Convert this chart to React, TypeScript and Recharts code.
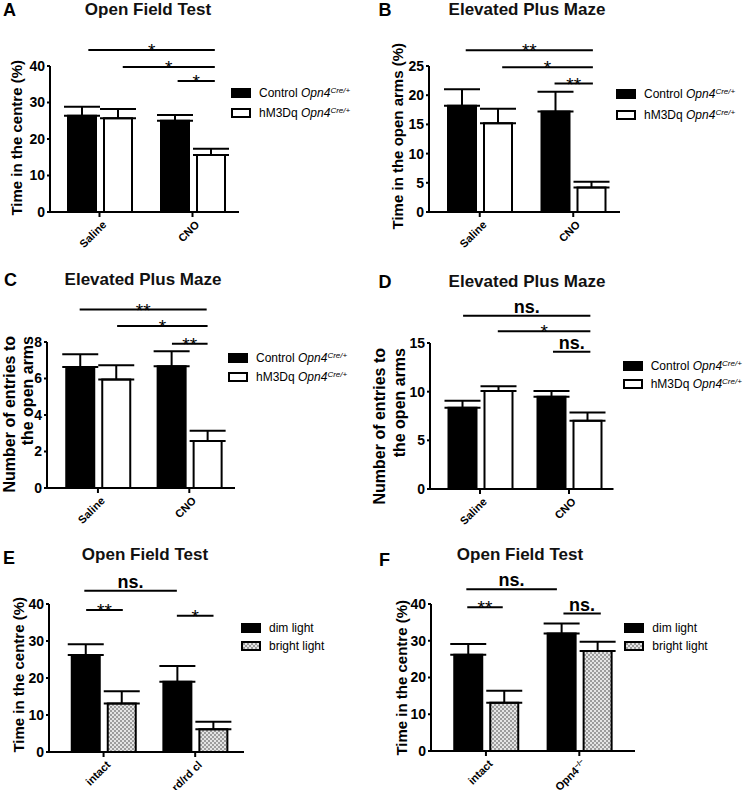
import React from 'react';
import { BarChart, Bar, XAxis, YAxis, ErrorBar, ReferenceLine, Legend } from 'recharts';

const FONT = '"Liberation Sans", Arial, Helvetica, sans-serif';

// categories
const treatments = ['Saline', 'CNO'];
const lesionGroups = ['intact', 'rd/rd cl'];
const knockoutGroups = ['intact', 'Opn4-/-'];
const genotypeNames = ['Control', 'hM3Dq'];
const lightNames = ['dim light', 'bright light'];

// A - open field, time in the centre (%)
const aControl = [26.4, 25.0];
const aControlSem = [2.45, 1.55];
const aHm3dq = [25.7, 15.6];
const aHm3dqSem = [2.5, 1.7];
const aTicks = [0, 10, 20, 30, 40];

// B - elevated plus maze, time in the open arms (%)
const bControl = [18.2, 17.2];
const bControlSem = [2.8, 3.4];
const bHm3dq = [15.2, 4.2];
const bHm3dqSem = [2.5, 1.0];
const bTicks = [0, 5, 10, 15, 20, 25];

// C - elevated plus maze, entries to the open arms
const cControl = [6.63, 6.67];
const cControlSem = [0.7, 0.82];
const cHm3dq = [5.95, 2.58];
const cHm3dqSem = [0.78, 0.56];
const cTicks = [0, 2, 4, 6, 8];

// D - elevated plus maze, entries to the open arms
const dControl = [8.35, 9.47];
const dControlSem = [0.71, 0.61];
const dHm3dq = [10.08, 7.02];
const dHm3dqSem = [0.48, 0.85];
const dTicks = [0, 5, 10, 15];

// E - open field, dim vs bright light
const eDim = [26.2, 19.0];
const eDimSem = [2.9, 4.25];
const eBright = [13.1, 6.15];
const eBrightSem = [3.3, 2.0];

// F - open field, dim vs bright light
const fDim = [26.2, 32.0];
const fDimSem = [2.9, 2.7];
const fBright = [13.1, 27.2];
const fBrightSem = [3.3, 2.5];
const openFieldTicks = [0, 10, 20, 30, 40];

// significance bars: from/to in category units (0..2), y in data units
const aSig = [
  { from: 0.38, to: 1.74, y: 44.4, text: '*' },
  { from: 0.75, to: 1.74, y: 39.7, text: '*' },
  { from: 1.34, to: 1.74, y: 35.9, text: '*' },
];
const bSig = [
  { from: 0.35, to: 1.71, y: 27.7, text: '**' },
  { from: 0.74, to: 1.71, y: 24.8, text: '*' },
  { from: 1.3, to: 1.71, y: 22.0, text: '**' },
];
const cSig = [
  { from: 0.3, to: 1.69, y: 9.78, text: '**' },
  { from: 0.71, to: 1.7, y: 8.87, text: '*' },
  { from: 1.31, to: 1.7, y: 7.9, text: '**' },
];
const dSig = [
  { from: 0.31, to: 1.74, y: 17.8, text: 'ns.' },
  { from: 0.7, to: 1.74, y: 16.2, text: '*' },
  { from: 1.32, to: 1.74, y: 14.1, text: 'ns.' },
];
const eSig = [
  { from: 0.29, to: 1.3, y: 43.6, text: 'ns.' },
  { from: 0.31, to: 0.71, y: 38.4, text: '**' },
  { from: 1.3, to: 1.7, y: 36.8, text: '*' },
];
const fSig = [
  { from: 0.29, to: 1.26, y: 44.0, text: 'ns.' },
  { from: 0.3, to: 0.68, y: 39.1, text: '**' },
  { from: 1.33, to: 1.73, y: 37.4, text: 'ns.' },
];

const rows = (cats: string[], m1: number[], s1: number[], m2: number[], s2: number[]) =>
  cats.map((name, i) => ({ name, v1: m1[i], e1: [0, s1[i]], v2: m2[i], e2: [0, s2[i]] }));

const XH = 40;

function SlantTick(props: any) {
  const { x, y, payload } = props;
  const v: string = String(payload.value);
  const ko = v.endsWith('-/-');
  return (
    <g transform={`translate(${x + 2},${y + 1}) rotate(-45)`}>
      <text textAnchor="end" dy="0.71em" fontFamily={FONT} fontSize={11} fontWeight={700} fill="#000">
        {ko ? (
          <>
            <tspan>{v.replace('-/-', '')}</tspan>
            <tspan fontSize={7} dy={-4}>−/−</tspan>
          </>
        ) : (
          v
        )}
      </text>
    </g>
  );
}

function AxisTitle({ lines, xs, yEnd, size }: any) {
  return (
    <g>
      {lines.map((t: string, i: number) => (
        <text
          key={i}
          x={xs[i]}
          y={yEnd}
          transform={`rotate(-90 ${xs[i]} ${yEnd})`}
          textAnchor="end"
          dominantBaseline="central"
          fontFamily={FONT}
          fontSize={size}
          fontWeight={700}
          fill="#000"
        >
          {t}
        </text>
      ))}
    </g>
  );
}

function SigLabel({ viewBox, text }: any) {
  const vb = viewBox || {};
  const cx = vb.x1 !== undefined ? (vb.x1 + vb.x2) / 2 : vb.x + vb.width / 2;
  const y = vb.y1 !== undefined ? vb.y1 : vb.y;
  const ns = text.startsWith('ns');
  return (
    <text x={cx} y={y + (ns ? -3 : 7)} textAnchor="middle" fontFamily={FONT} fontSize={ns ? 18 : 19} fontWeight={ns ? 700 : 400} fill="#000">
      {text}
    </text>
  );
}

function KeyRows({ payload, tagged, gap, rowH }: any) {
  const items = [...(payload || [])].sort((a: any, b: any) => String(a.dataKey).localeCompare(String(b.dataKey)));
  return (
    <div style={{ fontFamily: FONT, fontSize: 12, color: '#000', lineHeight: 1 }}>
      {items.map((e: any, i: number) => (
        <div key={i} style={{ display: 'flex', alignItems: 'center', height: rowH, whiteSpace: 'nowrap' }}>
          <svg width={20} height={10} style={{ display: 'block' }}>
            <rect x={1} y={1} width={18} height={8} fill={e.color} stroke="#000" strokeWidth={2} />
          </svg>
          <span style={{ marginLeft: gap }}>
            {e.value}
            {tagged && (
              <>
                {' '}
                <i>Opn4</i>
                <i style={{ fontSize: 8, position: 'relative', top: -4 }}>Cre/+</i>
              </>
            )}
          </span>
        </div>
      ))}
    </div>
  );
}

function Panel(p: any) {
  const margin = { top: p.plotTop, right: p.width - p.plotRight, bottom: p.height - p.plotBottom - XH, left: 0 };
  const pad = { left: p.padLeft, right: p.padRight || 0 };
  const axisStyle = { stroke: '#000', strokeWidth: 2 };
  return (
    <div style={{ position: 'absolute', left: p.left, top: p.top, width: p.width, height: p.height }}>
      <BarChart width={p.width} height={p.height} data={p.data} margin={margin} barSize={28} barGap={8}>
        {p.patternId && (
          <defs>
            <pattern id={p.patternId} width={4} height={4} patternUnits="userSpaceOnUse">
              <rect width={4} height={4} fill="#e4e4e4" />
              <rect width={2} height={2} fill="#9c9c9c" />
              <rect x={2} y={2} width={2} height={2} fill="#9c9c9c" />
            </pattern>
          </defs>
        )}
        <XAxis
          dataKey="name"
          height={XH}
          padding={pad}
          axisLine={axisStyle}
          tickLine={axisStyle}
          tickSize={5}
          tick={<SlantTick />}
          interval={0}
        />
        <XAxis xAxisId="u" type="number" domain={[0, 1]} padding={pad} hide />
        <YAxis
          width={p.plotLeft}
          domain={[0, p.yMax]}
          ticks={p.yTicks}
          interval={0}
          axisLine={axisStyle}
          tickLine={axisStyle}
          tickSize={3}
          tickMargin={2}
          tick={{ fill: '#000', fontSize: 14, fontWeight: 700, fontFamily: FONT }}
          label={<AxisTitle lines={p.yLabel} xs={p.yLabelX} yEnd={p.yLabelEnd} size={p.yLabelSize} />}
        />
        <Legend
          layout="horizontal"
          verticalAlign="middle"
          align="center"
          wrapperStyle={{ left: p.legendText - 28 - 1, top: p.legendY - p.legendGap / 2, width: 'auto', height: 'auto' }}
          content={(props: any) => <KeyRows payload={props.payload} tagged={p.tagged} gap={8} rowH={p.legendGap} />}
        />
        <Bar dataKey="v1" name={p.names[0]} fill={p.fills[0]} stroke="#000" strokeWidth={2} isAnimationActive={false}>
          <ErrorBar dataKey="e1" width={18} stroke="#000" strokeWidth={2} direction="y" />
        </Bar>
        <Bar dataKey="v2" name={p.names[1]} fill={p.fills[1]} stroke="#000" strokeWidth={2} isAnimationActive={false}>
          <ErrorBar dataKey="e2" width={18} stroke="#000" strokeWidth={2} direction="y" />
        </Bar>
        {p.sig.map((s: any, i: number) => (
          <ReferenceLine
            key={i}
            xAxisId="u"
            segment={[
              { x: s.from / 2, y: s.y },
              { x: s.to / 2, y: s.y },
            ]}
            stroke="#000"
            strokeWidth={2}
            ifOverflow="visible"
            label={<SigLabel text={s.text} />}
          />
        ))}
      </BarChart>
      <div
        style={{
          position: 'absolute',
          left: p.letterX,
          top: p.letterY,
          fontFamily: FONT,
          fontWeight: 700,
          fontSize: 18,
          lineHeight: 1,
        }}
      >
        {p.letter}
      </div>
      <div
        style={{
          position: 'absolute',
          left: p.titleX - 120,
          width: 240,
          textAlign: 'center',
          top: p.titleY,
          fontFamily: FONT,
          fontWeight: 700,
          fontSize: 17,
          lineHeight: 1,
          color: '#111',
        }}
      >
        {p.title}
      </div>
    </div>
  );
}

export default function App() {
  const bw = ['#000', '#fff'];
  return (
    <div style={{ position: 'absolute', left: 0, top: 0, width: 747, height: 790, background: '#fff' }}>
      <Panel
        left={0} top={0} width={370} height={270}
        letter="A" letterX={3} letterY={0.5} title="Open Field Test" titleX={148} titleY={0.5}
        data={rows(treatments, aControl, aControlSem, aHm3dq, aHm3dqSem)}
        names={genotypeNames} fills={bw} tagged
        yMax={40} yTicks={aTicks}
        yLabel={['Time in the centre (%)']} yLabelX={[16]} yLabelEnd={60} yLabelSize={15}
        plotLeft={50} plotTop={66} plotBottom={212} plotRight={239} padLeft={3}
        legendText={260} legendY={93} legendGap={20}
        sig={aSig}
      />
      <Panel
        left={370} top={0} width={377} height={270}
        letter="B" letterX={8.5} letterY={1} title="Elevated Plus Maze" titleX={157} titleY={1}
        data={rows(treatments, bControl, bControlSem, bHm3dq, bHm3dqSem)}
        names={genotypeNames} fills={bw} tagged
        yMax={25} yTicks={bTicks}
        yLabel={['Time in the open arms (%)']} yLabelX={[27]} yLabelEnd={43} yLabelSize={15}
        plotLeft={59} plotTop={66} plotBottom={212} plotRight={250} padLeft={4}
        legendText={275} legendY={94.3} legendGap={20.7}
        sig={bSig}
      />
      <Panel
        left={0} top={260} width={370} height={275}
        letter="C" letterX={4} letterY={11} title="Elevated Plus Maze" titleX={143} titleY={11}
        data={rows(treatments, cControl, cControlSem, cHm3dq, cHm3dqSem)}
        names={genotypeNames} fills={bw} tagged
        yMax={8} yTicks={cTicks}
        yLabel={['Number of entries to', 'the open arms']} yLabelX={[9, 27.5]} yLabelEnd={76} yLabelSize={16}
        plotLeft={47} plotTop={82} plotBottom={228} plotRight={235} padLeft={5.25}
        legendText={257} legendY={97.7} legendGap={19}
        sig={cSig}
      />
      <Panel
        left={370} top={260} width={377} height={275}
        letter="D" letterX={8.5} letterY={12.6} title="Elevated Plus Maze" titleX={157} titleY={12.8}
        data={rows(treatments, dControl, dControlSem, dHm3dq, dHm3dqSem)}
        names={genotypeNames} fills={bw} tagged
        yMax={15} yTicks={dTicks}
        yLabel={['Number of entries to', 'the open arms']} yLabelX={[9, 29]} yLabelEnd={88} yLabelSize={16}
        plotLeft={60} plotTop={83} plotBottom={229} plotRight={243.5} padLeft={5.5}
        legendText={281.7} legendY={105.7} legendGap={18.3}
        sig={dSig}
      />
      <Panel
        left={0} top={520} width={370} height={270}
        letter="E" letterX={3} letterY={29.3} title="Open Field Test" titleX={145} titleY={26.1}
        data={rows(lesionGroups, eDim, eDimSem, eBright, eBrightSem)}
        names={lightNames} fills={['#000', 'url(#checkE)']} patternId="checkE"
        yMax={40} yTicks={openFieldTicks}
        yLabel={['Time in the centre (%)']} yLabelX={[18]} yLabelEnd={77} yLabelSize={15}
        plotLeft={49} plotTop={84} plotBottom={232} plotRight={244} padLeft={8.75} padRight={3}
        legendText={270} legendY={107.7} legendGap={18}
        sig={eSig}
      />
      <Panel
        left={370} top={520} width={377} height={270}
        letter="F" letterX={9} letterY={31} title="Open Field Test" titleX={150} titleY={26.1}
        data={rows(knockoutGroups, fDim, fDimSem, fBright, fBrightSem)}
        names={lightNames} fills={['#000', 'url(#checkF)']} patternId="checkF"
        yMax={40} yTicks={openFieldTicks}
        yLabel={['Time in the centre (%)']} yLabelX={[31]} yLabelEnd={80} yLabelSize={15}
        plotLeft={61} plotTop={84} plotBottom={231} plotRight={265} padLeft={8.25} padRight={9}
        legendText={283.3} legendY={107.7} legendGap={18.3}
        sig={fSig}
      />
    </div>
  );
}
